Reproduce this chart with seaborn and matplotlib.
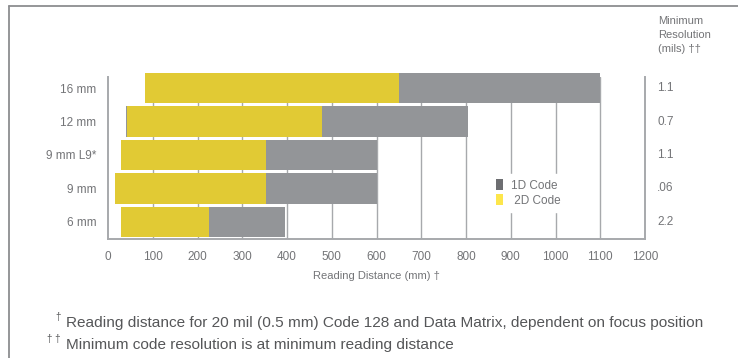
import matplotlib
matplotlib.use("Agg")
import matplotlib.pyplot as plt
import seaborn as sns
from matplotlib.patches import Patch
from matplotlib.lines import Line2D

# ---- data ----
categories = ["16 mm", "12 mm", "9 mm L9*", "9 mm", "6 mm"]
start_1d = [83, 40, 29, 16, 29]
start_2d = [83, 42, 29, 16, 29]
max_1d = [1100, 805, 600, 600, 395]
max_2d = [650, 478, 353, 353, 226]
resolution = ["1.1", "0.7", "1.1", ".06", "2.2"]
x_ticks = list(range(0, 1300, 100))

GRAY = "#939598"
YELLOW = "#e1ca34"
LEG_GRAY = "#6d6e71"
LEG_YELLOW = "#fde64b"
TXT = "#737477"
FOOT = "#555658"
LINE = "#a7a9ac"

sns.set_theme(style="white")
plt.rcParams["font.family"] = ["Liberation Sans", "DejaVu Sans"]

W, H = 738, 358
fig = plt.figure(figsize=(W / 100, H / 100), dpi=100)
ax = fig.add_axes([108 / W, 1 - 239 / H, (645 - 108) / W, (239 - 77) / H])

sns.barplot(x=max_1d, y=categories, orient="h", color=GRAY, width=0.9,
            saturation=1, ax=ax)
sns.barplot(x=max_2d, y=categories, orient="h", color=YELLOW, width=0.9,
            saturation=1, ax=ax)

for p, s, m in zip(ax.containers[0], start_1d, max_1d):
    p.set_x(s); p.set_width(m - s); p.set_clip_on(False); p.set_linewidth(0)
    p.set_zorder(3)
for p, s, m in zip(ax.containers[1], start_2d, max_2d):
    p.set_x(s); p.set_width(m - s); p.set_clip_on(False); p.set_linewidth(0)
    p.set_zorder(4)

ax.set_xlim(0, 1200)
ax.set_ylim(4.51, -0.33)
ax.set_xticks(x_ticks)
ax.set_xticklabels([str(t) for t in x_ticks])
ax.set_axisbelow(True)
for t in x_ticks[1:-1]:
    ax.axvline(t, color=LINE, lw=1.0, zorder=1)

for side in ["left", "right", "bottom"]:
    ax.spines[side].set_visible(True)
    ax.spines[side].set_color(LINE)
    ax.spines[side].set_linewidth(1.4)
    ax.spines[side].set_zorder(5)
ax.spines["top"].set_visible(False)

ax.tick_params(axis="x", length=0, pad=9, labelsize=8.5, labelcolor=TXT)
ax.tick_params(axis="y", length=0, pad=8.5, labelsize=8.5, labelcolor=TXT)
ax.set_ylabel("")
ax.set_xlabel("Reading Distance (mm) \u2020", fontsize=8, color=TXT)
ax.xaxis.set_label_coords(0.5, -(271 - 239) / (239 - 77))

# right-hand resolution labels
for i, r in enumerate(resolution):
    ax.text(1 + 12 / 537, i, r, transform=ax.get_yaxis_transform(),
            ha="left", va="center", fontsize=8.5, color=TXT)
fig.text(658 / W, 1 - 16 / H, "Minimum\nResolution\n(mils) \u2020\u2020",
         ha="left", va="top", fontsize=8, color=TXT, linespacing=1.5)

# legend
handles = [Patch(facecolor=LEG_GRAY, edgecolor="none", label="1D Code"),
           Patch(facecolor=LEG_YELLOW, edgecolor="none", label=" 2D Code")]
leg = fig.legend(handles=handles, loc="center left",
                 bbox_to_anchor=(484 / W, 1 - 193 / H), frameon=True,
                 fontsize=8.5, handlelength=0.6, handleheight=1.0,
                 handletextpad=0.7, labelspacing=0.2, borderpad=0.5,
                 facecolor="white", edgecolor="white", framealpha=1)
for t in leg.get_texts():
    t.set_color(TXT)

# footnotes
fig.text(55 / W, 1 - 320 / H, "\u2020", fontsize=7, color=FOOT, ha="left", va="baseline")
fig.text(66 / W, 1 - 327 / H,
         "Reading distance for 20 mil (0.5 mm) Code 128 and Data Matrix, dependent on focus position",
         fontsize=11.1, color=FOOT, ha="left", va="baseline")
fig.text(47 / W, 1 - 342 / H, "\u2020 \u2020", fontsize=7, color=FOOT, ha="left", va="baseline")
fig.text(66 / W, 1 - 349 / H, "Minimum code resolution is at minimum reading distance",
         fontsize=11.1, color=FOOT, ha="left", va="baseline")

# outer frame
fig.add_artist(Line2D([9 / W, 1], [1 - 6 / H, 1 - 6 / H], color="#8c8d90", lw=1.3,
                      transform=fig.transFigure))
fig.add_artist(Line2D([9 / W, 9 / W], [0, 1 - 6 / H], color="#8c8d90", lw=1.3,
                      transform=fig.transFigure))

fig.savefig("out.png", dpi=100)
